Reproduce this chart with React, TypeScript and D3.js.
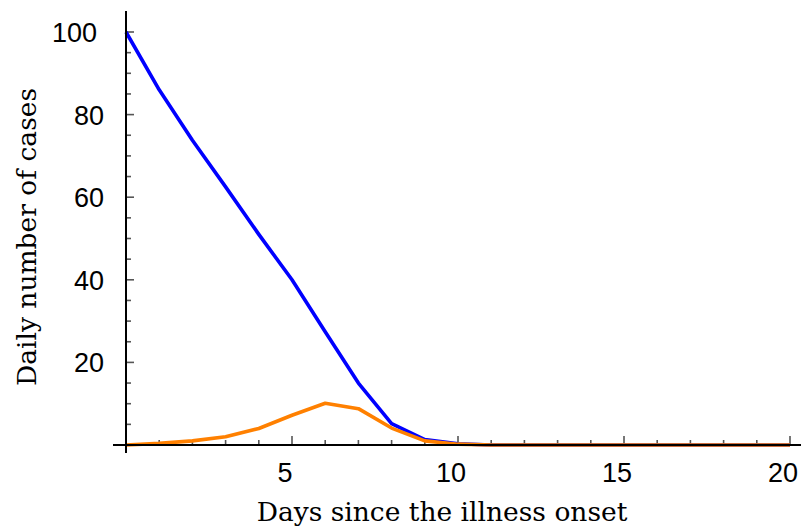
import React from 'react';
import * as d3 from 'd3';

// days since onset
const days = d3.range(0, 21);
// daily cases
const blueCases = [100, 86, 73.8, 62.5, 51, 40, 27.4, 15, 5.2, 1.3, 0.3, 0, 0, 0, 0, 0, 0, 0, 0, 0, 0];
const orangeCases = [0, 0.4, 1, 2, 4, 7.2, 10.1, 8.8, 4.1, 1, 0.2, 0, 0, 0, 0, 0, 0, 0, 0, 0, 0];
const xTickLabels = [5, 10, 15, 20];
const yTickLabels = [20, 40, 60, 80, 100];

const W = 801;
const H = 529;

const App: React.FC = () => {
  const x = d3.scaleLinear().domain([0, 20]).range([126, 790]);
  const y = d3.scaleLinear().domain([0, 100]).range([445, 32]);

  const line = (vals: number[]) =>
    d3.line<number>()
      .x((_, i) => x(days[i]))
      .y(d => y(d))(vals) || '';

  const minorX = d3.range(1, 21);
  const minorY = d3.range(5, 105, 5);

  return (
    <svg width={W} height={H} style={{ position: 'absolute', left: 0, top: 0, background: '#fff' }}>
      {/* ticks */}
      {minorX.map(d => (
        <line key={'xt' + d} x1={x(d)} x2={x(d)} y1={445} y2={d % 5 === 0 ? 436 : 440}
          stroke="#555" strokeWidth={1.6} />
      ))}
      {minorY.map(d => (
        <line key={'yt' + d} x1={126} x2={d % 20 === 0 ? 134 : 131} y1={y(d)} y2={y(d)}
          stroke="#555" strokeWidth={1.6} />
      ))}
      {/* data */}
      <path d={line(blueCases)} fill="none" stroke="#0000ff" strokeWidth={3.6} strokeLinejoin="round" />
      <path d={line(orangeCases)} fill="none" stroke="#ff8000" strokeWidth={3.6} strokeLinejoin="round" />
      {/* axes */}
      <line x1={126} x2={126} y1={11} y2={453} stroke="#000" strokeWidth={2} />
      <line x1={113} x2={801} y1={445} y2={445} stroke="#000" strokeWidth={2} />
      {/* tick labels */}
      {xTickLabels.map(d => (
        <text key={'xl' + d} x={x(d) - 7} y={482} textAnchor="middle"
          fontFamily="'Liberation Sans', Arial, sans-serif" fontSize={27} fill="#000">{d}</text>
      ))}
      {yTickLabels.map(d => (
        <text key={'yl' + d} x={d === 100 ? 97 : 104} y={y(d) + 10} textAnchor="end"
          fontFamily="'Liberation Sans', Arial, sans-serif" fontSize={27} fill="#000">{d}</text>
      ))}
      {/* titles */}
      <text x={442} y={521} textAnchor="middle" fontFamily="'DejaVu Serif', serif" fontSize={26.5} fill="#000">
        Days since the illness onset
      </text>
      <text transform="translate(36,237) rotate(-90)" textAnchor="middle"
        fontFamily="'DejaVu Serif', serif" fontSize={26.5} fill="#000">
        Daily number of cases
      </text>
    </svg>
  );
};

export default App;
